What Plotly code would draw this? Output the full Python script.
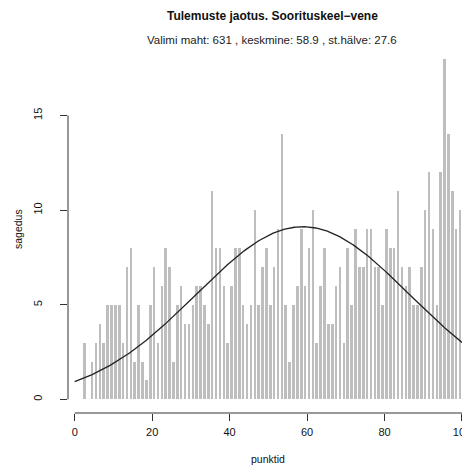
import numpy as np
import plotly.graph_objects as go

# Histogram bins (left edges, width 1) and frequencies
bin_left = list(range(0, 100))
counts = [0, 0, 3, 0, 2, 3, 4, 3, 5, 5,
          5, 5, 3, 7, 8, 2, 5, 2, 1, 5,
          7, 3, 6, 8, 7, 2, 5, 6, 4, 4,
          5, 6, 6, 5, 4, 11, 8, 8, 6, 3,
          6, 8, 8, 5, 4, 5, 10, 5, 7, 8,
          5, 7, 9, 14, 5, 2, 5, 6, 9, 6,
          8, 10, 3, 6, 8, 4, 4, 6, 7, 3,
          8, 5, 9, 7, 7, 9, 9, 7, 7, 5,
          9, 8, 8, 11, 7, 6, 7, 5, 5, 7,
          10, 12, 9, 5, 12, 18, 14, 11, 9, 10]

n_total = 631
mean_val = 58.9
sd_val = 27.6
bin_width = 1

x_ticks = [0, 20, 40, 60, 80, 100]
y_ticks = [0, 5, 10, 15]

title = "Tulemuste jaotus. Soorituskeel\u2212vene"
subtitle = "Valimi maht: 631 , keskmine: 58.9 , st.hälve: 27.6"
x_label = "punktid"
y_label = "sagedus"

centers = [b + bin_width / 2 for b in bin_left]

xs = np.linspace(0, 100, 401)
dens = n_total * bin_width / (sd_val * np.sqrt(2 * np.pi)) * np.exp(-0.5 * ((xs - mean_val) / sd_val) ** 2)

fig = go.Figure()
fig.add_trace(go.Bar(x=centers, y=counts, width=0.66,
                     marker=dict(color="#bebebe", line=dict(width=0)),
                     hoverinfo="x+y"))
fig.add_trace(go.Scatter(x=xs, y=dens, mode="lines",
                         line=dict(color="#222222", width=1.3)))

# page body has an 8px margin; figure is shrunk so the plot sits where the reference has it
OFF = 8
W, H = 470 - OFF, 466 - OFF
L, R, T, B = 68 - OFF, 0, 45 - OFF, 53
fig.update_layout(
    width=W, height=H,
    margin=dict(l=L, r=R, t=T, b=B, pad=0, autoexpand=False),
    paper_bgcolor="white", plot_bgcolor="white",
    showlegend=False, bargap=0,
    font=dict(family="Liberation Sans, Arial, sans-serif", color="#000000", size=11),
)
fig.update_xaxes(range=[-1.73, 102.07], tickvals=x_ticks, ticktext=[str(v) for v in x_ticks],
                 ticks="outside", ticklen=7, tickwidth=1, tickcolor="#333333",
                 showgrid=False, zeroline=False, showline=False, automargin=False,
                 ticklabeloverflow="allow", ticklabelstandoff=2,
                 tickfont=dict(size=11, color="#111111"))
fig.update_yaxes(range=[-0.72, 18.72], tickvals=y_ticks, ticktext=[str(v) for v in y_ticks],
                 ticks="outside", ticklen=7, tickwidth=1, tickcolor="#333333",
                 showgrid=False, zeroline=False, showline=False, tickangle=-90, automargin=False,
                 ticklabelstandoff=14,
                 tickfont=dict(size=11, color="#111111"))

# R-style axis lines spanning only first to last tick
fig.add_shape(type="line", xref="x", yref="paper", x0=x_ticks[0], x1=x_ticks[-1], y0=0, y1=0,
              line=dict(color="#333333", width=1))
fig.add_shape(type="line", xref="paper", yref="y", x0=0, x1=0, y0=y_ticks[0], y1=y_ticks[-1],
              line=dict(color="#333333", width=1))

plot_w = W - L - R
plot_h = H - T - B
def px_x(p):  # p = pixel in reference coordinates
    return (p - OFF - L) / plot_w
def px_y(p):
    return (H - B - (p - OFF)) / plot_h

fig.add_annotation(text="<b>" + title + "</b>", xref="paper", yref="paper",
                   x=px_x(272), y=px_y(16), showarrow=False, xanchor="center", yanchor="middle",
                   font=dict(size=12, color="#111111"))
fig.add_annotation(text=subtitle, xref="paper", yref="paper",
                   x=px_x(272), y=px_y(40), showarrow=False, xanchor="center", yanchor="middle",
                   font=dict(size=11.5, color="#222222"))
fig.add_annotation(text=x_label, xref="paper", yref="paper",
                   x=px_x(268), y=px_y(459), showarrow=False, xanchor="center", yanchor="middle",
                   font=dict(size=10.5, color="#111111"))
fig.add_annotation(text=y_label, xref="paper", yref="paper",
                   x=px_x(18), y=px_y(229), showarrow=False, xanchor="center", yanchor="middle",
                   textangle=-90, font=dict(size=10.5, color="#111111"))

fig.write_html("out.html")
